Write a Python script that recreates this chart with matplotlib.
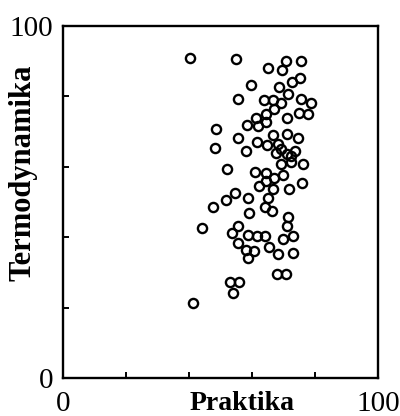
import matplotlib
matplotlib.use("Agg")
import matplotlib.pyplot as plt

# Scores: practical exam (x) vs thermodynamics exam (y)
praktika = [40.3, 54.9, 75.6, 70.8, 65.2, 69.6, 75.2, 72.7, 59.6, 68.7,
            71.5, 55.4, 63.9, 66.6, 75.6, 78.7, 69.2, 67.1, 75.0, 77.9,
            64.4, 71.0, 61.2, 64.4, 58.3, 61.8, 48.6, 66.6, 71.2, 74.5,
            55.4, 48.3, 61.5, 64.7, 68.1, 58.1, 69.2, 67.6, 71.0, 73.7,
            72.4, 76.1, 72.4, 69.2, 52.0, 61.0, 64.4, 69.7, 67.1, 64.3,
            75.8, 62.2, 66.6, 71.6, 54.6, 51.7, 58.8, 65.2, 47.7, 64.1,
            66.2, 59.1, 71.5, 71.2, 44.2, 55.7, 53.8, 58.8, 61.5, 64.1,
            73.1, 69.9, 55.4, 65.5, 58.1, 60.6, 68.1, 72.9, 58.8, 67.8,
            70.8, 53.0, 56.0, 54.1, 41.4]
termodynamika = [90.8, 90.5, 90.1, 90.1, 88.2, 87.5, 85.1, 84.2, 83.2, 82.8,
                 80.8, 79.4, 79.1, 79.1, 79.3, 78.2, 78.0, 76.3, 75.2, 74.9,
                 74.9, 73.9, 73.8, 72.6, 72.0, 71.6, 70.6, 69.0, 69.3, 68.3,
                 68.1, 65.4, 67.1, 66.2, 66.5, 64.5, 65.1, 63.8, 63.6, 64.5,
                 63.0, 60.8, 61.3, 60.7, 59.3, 58.6, 58.3, 57.8, 56.9, 56.0,
                 55.5, 54.5, 53.6, 53.7, 52.6, 50.7, 51.0, 51.0, 48.5, 48.7,
                 47.5, 46.8, 45.6, 43.2, 42.5, 43.2, 41.1, 40.6, 40.4, 40.4,
                 40.4, 39.5, 38.4, 37.3, 36.5, 36.2, 35.2, 35.4, 34.0, 29.5,
                 29.5, 27.4, 27.4, 24.1, 21.4]

major_ticks = [0, 100]
minor_ticks = [20, 40, 60, 80]
tick_labels = ["0", "100"]

plt.rcParams["font.family"] = ["Liberation Serif", "DejaVu Serif"]

fig = plt.figure(figsize=(4.0, 4.16), dpi=100)
ax = fig.add_axes([0.1575, 0.0913, 0.7875, 0.8462])

ax.plot(praktika, termodynamika, linestyle="none", marker="o",
        markersize=6.6, markerfacecolor="none", markeredgecolor="black",
        markeredgewidth=1.7)

ax.set_xlim(0, 100)
ax.set_ylim(0, 100)

ax.set_xticks(major_ticks)
ax.set_xticklabels(tick_labels)
ax.set_yticks(major_ticks)
ax.set_yticklabels(tick_labels)
ax.set_xticks(minor_ticks, minor=True)
ax.set_yticks(minor_ticks, minor=True)

ax.tick_params(which="major", length=0, labelsize=21)
ax.tick_params(axis="x", which="major", pad=9)
ax.tick_params(axis="y", which="major", pad=7)
ax.tick_params(which="minor", direction="in", length=4, width=1.4,
               top=False, right=False)

for sp in ax.spines.values():
    sp.set_linewidth(1.7)

fig.text(0.605, 0.001, "Praktika", ha="center", va="bottom",
         fontsize=20, fontweight="bold")
fig.text(0.058, 0.584, "Termodynamika", ha="center", va="center",
         rotation=90, fontsize=22, fontweight="bold")

fig.savefig("out.png", dpi=100)
